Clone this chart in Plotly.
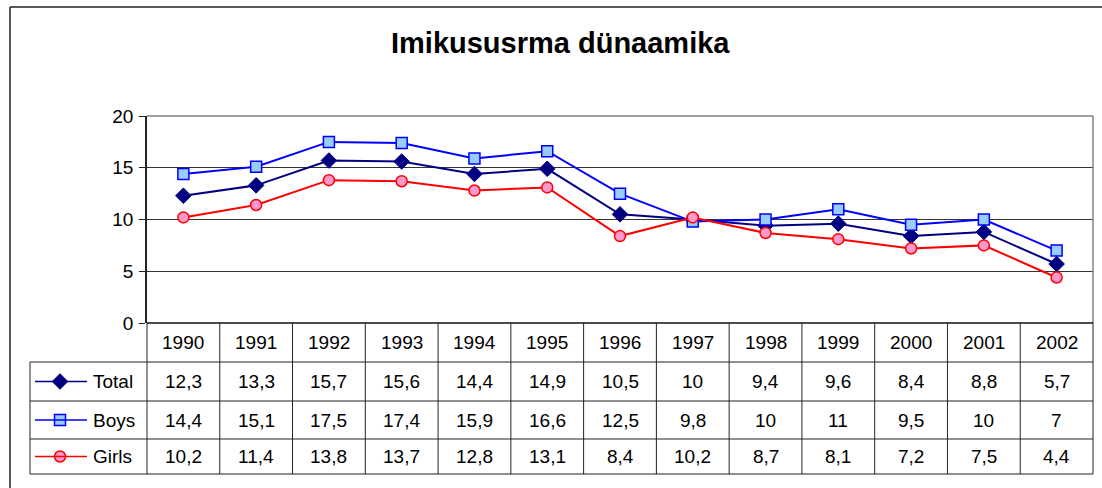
import plotly.graph_objects as go

years = ["1990", "1991", "1992", "1993", "1994", "1995", "1996", "1997", "1998", "1999", "2000", "2001", "2002"]
total = [12.3, 13.3, 15.7, 15.6, 14.4, 14.9, 10.5, 10, 9.4, 9.6, 8.4, 8.8, 5.7]
boys = [14.4, 15.1, 17.5, 17.4, 15.9, 16.6, 12.5, 9.8, 10, 11, 9.5, 10, 7]
girls = [10.2, 11.4, 13.8, 13.7, 12.8, 13.1, 8.4, 10.2, 8.7, 8.1, 7.2, 7.5, 4.4]
series_names = ["Total", "Boys", "Girls"]

W, H = 1102, 488
FONT = "Liberation Sans, Arial, sans-serif"
FS = 19

def px(x):
    return x / W

def py(y):
    return 1 - y / H

PL, PR, PT, PB = 147, 1093, 116, 323
ROWS = [323, 362, 401, 439, 474]
LEG_L = 30

styles = [
    dict(line=dict(color="#000080", width=2), marker=dict(symbol="diamond", size=12, color="#000080", line=dict(color="#000080", width=1))),
    dict(line=dict(color="#0000FF", width=2), marker=dict(symbol="square", size=11, color="#99CCFF", line=dict(color="#0000FF", width=1.5))),
    dict(line=dict(color="#FF0000", width=2), marker=dict(symbol="circle", size=11, color="#FF99CC", line=dict(color="#FF0000", width=1.5))),
]

fig = go.Figure()
for name, vals, st in zip(series_names, [total, boys, girls], styles):
    fig.add_trace(go.Scatter(x=list(range(len(years))), y=vals, name=name, mode="lines+markers",
                             line=st["line"], marker=st["marker"], showlegend=False, cliponaxis=False))

shapes = []
line_dark = dict(color="#222222", width=1)
shapes.append(dict(type="line", xref="paper", yref="paper", x0=px(10), x1=px(10), y0=py(7), y1=py(488), line=dict(color="#222222", width=1.5)))
shapes.append(dict(type="line", xref="paper", yref="paper", x0=px(10), x1=px(1102), y0=py(7), y1=py(7), line=dict(color="#222222", width=1.5)))
shapes.append(dict(type="line", xref="paper", yref="paper", x0=px(PL), x1=px(PR), y0=py(PT), y1=py(PT), line=dict(color="#808080", width=1.5)))
shapes.append(dict(type="line", xref="paper", yref="paper", x0=px(PR), x1=px(PR), y0=py(PT), y1=py(PB), line=dict(color="#808080", width=1.5)))

colw = (PR - PL) / len(years)
shapes.append(dict(type="line", xref="paper", yref="paper", x0=px(PL), x1=px(PR), y0=py(PB), y1=py(PB), line=dict(color="#111111", width=1.5)))
for r in ROWS[1:]:
    shapes.append(dict(type="line", xref="paper", yref="paper", x0=px(LEG_L), x1=px(PR), y0=py(r), y1=py(r), line=line_dark))
for i in range(len(years) + 1):
    x = PL + i * colw
    shapes.append(dict(type="line", xref="paper", yref="paper", x0=px(x), x1=px(x), y0=py(PB), y1=py(ROWS[-1]), line=line_dark))
shapes.append(dict(type="line", xref="paper", yref="paper", x0=px(LEG_L), x1=px(LEG_L), y0=py(ROWS[1]), y1=py(ROWS[-1]), line=line_dark))

annotations = []
annotations.append(dict(text="<b>Imikususrma dünaamika</b>", xref="paper", yref="paper", x=px(560), y=py(43),
                        showarrow=False, font=dict(family=FONT, size=29, color="#000000"), xanchor="center", yanchor="middle"))
for i, yr in enumerate(years):
    annotations.append(dict(text=yr, xref="paper", yref="paper", x=px(PL + (i + 0.5) * colw), y=py((ROWS[0] + ROWS[1]) / 2),
                            showarrow=False, font=dict(family=FONT, size=FS, color="#000000"), xanchor="center", yanchor="middle"))

def fmt(v):
    return ("%g" % v).replace(".", ",")

for r, (name, vals, st) in enumerate(zip(series_names, [total, boys, girls], styles)):
    yc = (ROWS[r + 1] + ROWS[r + 2]) / 2
    for i, v in enumerate(vals):
        annotations.append(dict(text=fmt(v), xref="paper", yref="paper", x=px(PL + (i + 0.5) * colw), y=py(yc),
                                showarrow=False, font=dict(family=FONT, size=FS, color="#000000"), xanchor="center", yanchor="middle"))
    annotations.append(dict(text=name, xref="paper", yref="paper", x=px(91), y=py(yc),
                            showarrow=False, font=dict(family=FONT, size=FS, color="#000000"), xanchor="left", yanchor="middle"))
    shapes.append(dict(type="line", xref="paper", yref="paper", x0=px(35), x1=px(87), y0=py(yc), y1=py(yc), line=dict(color=st["line"]["color"], width=1.5)))
    fig.add_trace(go.Scatter(x=[px(60)], y=[py(yc)], xaxis="x2", yaxis="y2", mode="markers",
                             marker=st["marker"], showlegend=False, hoverinfo="skip"))

fig.update_layout(
    width=W, height=H, autosize=False,
    margin=dict(l=0, r=0, t=0, b=0, autoexpand=False),
    paper_bgcolor="white", plot_bgcolor="rgba(0,0,0,0)",
    font=dict(family=FONT, size=FS, color="#000000"),
    xaxis=dict(domain=[px(PL), px(PR)], range=[-0.5, len(years) - 0.5], showticklabels=False, showgrid=False,
               zeroline=False, showline=False, ticks=""),
    yaxis=dict(domain=[py(PB), py(PT)], range=[0, 20], tickvals=[0, 5, 10, 15, 20], ticks="outside", ticklen=6,
               tickcolor="#222222", showgrid=True, gridcolor="#333333", gridwidth=1, zeroline=False,
               showline=True, linecolor="#222222", linewidth=1.5, tickfont=dict(family=FONT, size=FS), ticklabelstandoff=2),
    xaxis2=dict(domain=[0, 1], range=[0, 1], visible=False, anchor="y2"),
    yaxis2=dict(domain=[0, 1], range=[0, 1], visible=False, anchor="x2"),
    shapes=shapes,
    annotations=annotations,
)

fig.write_html("out.html", config=dict(displayModeBar=False, responsive=False),
               post_script="document.body.style.margin='0';document.body.style.overflow='hidden';")
